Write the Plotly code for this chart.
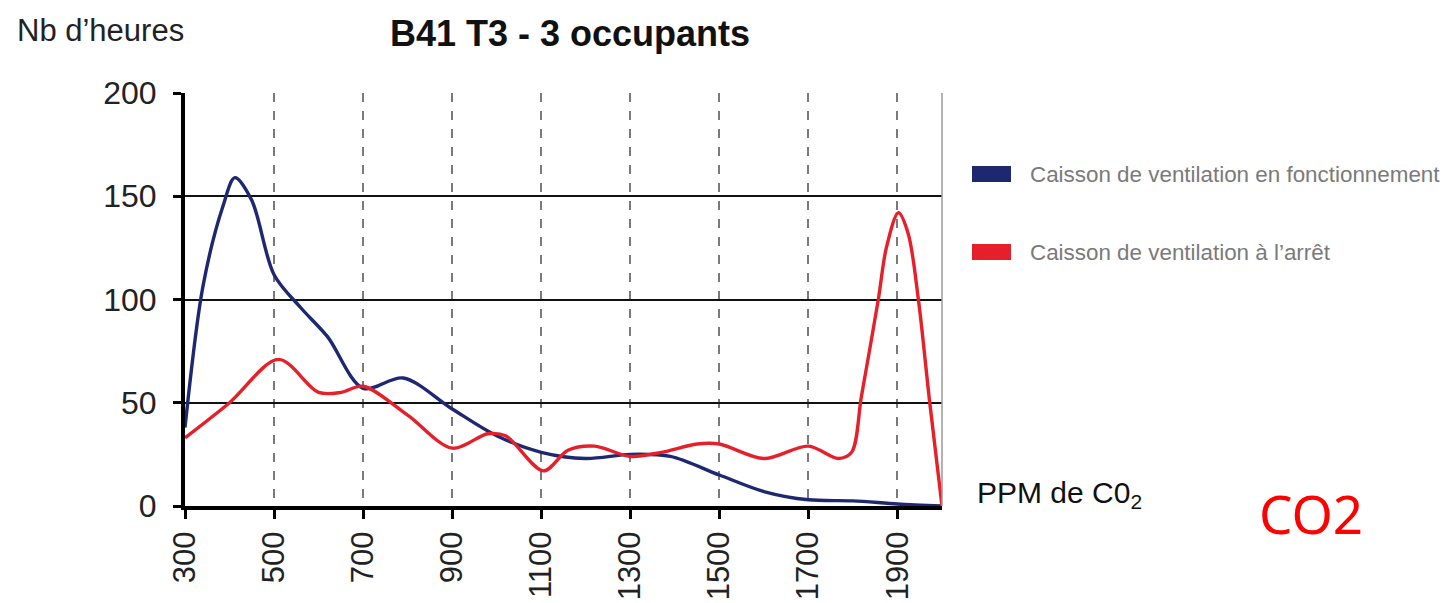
import plotly.graph_objects as go

# --- data ---
x_blue = [300, 340, 385, 412, 450, 500, 560, 620, 700, 790, 900, 1000, 1100, 1200, 1300, 1390, 1500, 1600, 1700, 1800, 1900, 2000]
y_blue = [38, 106, 145, 159, 148, 112, 96, 82, 57, 62, 47, 34, 26, 23, 25, 24, 15, 7, 3, 2.5, 1, 0]

x_red = [300, 400, 510, 600, 650, 700, 800, 900, 980, 1020, 1105, 1160, 1220, 1300, 1370, 1450, 1500, 1600, 1700, 1767, 1797, 1819, 1857, 1875, 1902, 1924, 1947, 1972, 2000]
y_red = [33, 50, 71, 55, 55, 58, 44, 28, 35, 34, 17, 27, 29, 24, 26, 30, 30, 23, 29, 23, 26, 53, 100, 125, 142, 132, 100, 51, 0]

x_ticks = [300, 500, 700, 900, 1100, 1300, 1500, 1700, 1900]
y_ticks = [0, 50, 100, 150, 200]

series_names = ["Caisson de ventilation en fonctionnement", "Caisson de ventilation à l’arrêt"]
series_colors = ["#1e2870", "#e5202b"]

title_text = "<b>B41 T3 - 3 occupants</b>"
y_title = "Nb d’heures"
x_title = "PPM de C0<sub>2</sub>"
red_note = "CO2"

# --- layout geometry (pixels) ---
W, H = 1447, 603
L, R, T, B = 185, 942, 93, 506
FONT = "Liberation Sans, Arial"

def px(x):
    return (x - L) / (R - L)

def py(y):
    return (B - y) / (B - T)

fig = go.Figure()
fig.add_trace(go.Scatter(x=x_blue, y=y_blue, mode="lines", name=series_names[0],
                         line=dict(color=series_colors[0], width=3.4, shape="spline", smoothing=0.9),
                         showlegend=False))
fig.add_trace(go.Scatter(x=x_red, y=y_red, mode="lines", name=series_names[1],
                         line=dict(color=series_colors[1], width=3.4, shape="spline", smoothing=0.9),
                         showlegend=False))

shapes = []
annotations = []
# right border of the plot
shapes.append(dict(type="line", xref="paper", yref="paper", x0=1, x1=1, y0=0, y1=1,
                   line=dict(color="#9a9a9a", width=1.5)))
# legend swatches + labels
leg_y = [174, 252]
for name, col, yy in zip(series_names, series_colors, leg_y):
    shapes.append(dict(type="rect", xref="paper", yref="paper",
                       x0=px(972), x1=px(1011), y0=py(yy - 8), y1=py(yy + 8),
                       fillcolor=col, line=dict(width=0)))
    annotations.append(dict(text=name, xref="paper", yref="paper", x=px(1028), y=py(yy),
                            xanchor="left", yanchor="middle", showarrow=False,
                            font=dict(family=FONT, size=22.4, color="#7a7a7a")))

annotations.append(dict(text=y_title, xref="paper", yref="paper", x=px(15), y=py(31),
                        xanchor="left", yanchor="middle", showarrow=False,
                        font=dict(family=FONT, size=31, color="#222222")))
annotations.append(dict(text=x_title, xref="paper", yref="paper", x=px(975), y=py(494),
                        xanchor="left", yanchor="middle", showarrow=False,
                        font=dict(family=FONT, size=30, color="#111111")))
annotations.append(dict(text=red_note, xref="paper", yref="paper", x=px(1257), y=py(513),
                        xanchor="left", yanchor="middle", showarrow=False,
                        font=dict(family="Noto Sans", size=53, color="#ff0000")))

fig.update_layout(
    width=W, height=H,
    margin=dict(l=L, r=W - R, t=T, b=H - B, pad=0),
    paper_bgcolor="white", plot_bgcolor="white",
    title=dict(text=title_text, x=570 / W, xanchor="center", xref="container",
               y=1 - 33 / H, yanchor="middle", yref="container",
               font=dict(family=FONT, size=36, color="#111111")),
    shapes=shapes, annotations=annotations,
    showlegend=False,
    xaxis=dict(range=[300, 2000], tickvals=x_ticks, ticktext=[str(v) for v in x_ticks],
               tickangle=-90, ticks="outside", ticklen=9, tickwidth=3, tickcolor="black",
               showline=True, linecolor="black", linewidth=4,
               showgrid=True, gridcolor="#7a7a7a", gridwidth=2, griddash="dash",
               zeroline=False, ticklabelstandoff=0, automargin=False,
               tickfont=dict(family=FONT, size=31, color="#222222"), fixedrange=True),
    yaxis=dict(range=[0, 200], tickvals=y_ticks, ticktext=[str(v) for v in y_ticks],
               ticks="outside", ticklen=8, tickwidth=3, tickcolor="black",
               showline=True, linecolor="black", linewidth=4,
               showgrid=True, gridcolor="#111111", gridwidth=2,
               zeroline=False, ticklabelstandoff=10, automargin=False,
               tickfont=dict(family=FONT, size=32, color="#222222"), fixedrange=True),
)

fig.write_html("out.html", config={"displayModeBar": False},
               post_script="document.body.style.margin='0';document.body.style.overflow='hidden';")
